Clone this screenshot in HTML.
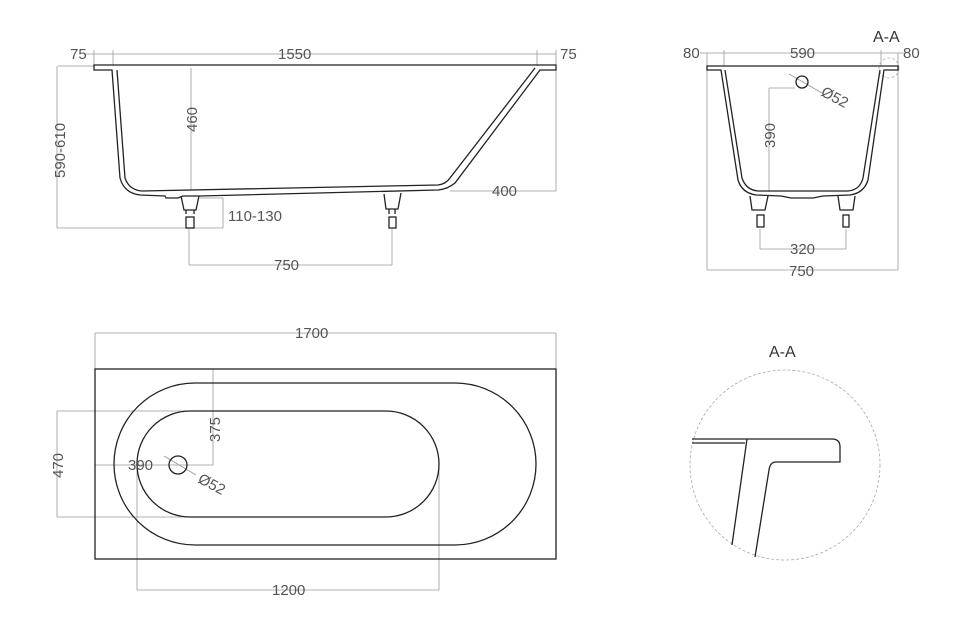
<!DOCTYPE html>
<html><head><meta charset="utf-8"><style>
html,body{margin:0;padding:0;background:#fff;}
svg{display:block;}
text{font-family:"Liberation Sans",sans-serif;font-size:15px;fill:#555;}
</style></head><body>
<svg width="958" height="629" viewBox="0 0 958 629" xmlns="http://www.w3.org/2000/svg">
<g fill="none" stroke="#999" stroke-width="0.8">
<!-- side view dims -->
<line x1="86" y1="54" x2="556" y2="54"/>
<line x1="94" y1="50" x2="94" y2="66"/><line x1="113" y1="50" x2="113" y2="66"/>
<line x1="537" y1="50" x2="537" y2="66"/><line x1="556" y1="50" x2="556" y2="191"/>
<line x1="58" y1="66" x2="94" y2="66"/><line x1="57" y1="66" x2="57" y2="228"/>
<line x1="57" y1="228" x2="223" y2="228"/><line x1="223" y1="198" x2="223" y2="228"/><line x1="200" y1="198" x2="223" y2="198"/>
<line x1="191" y1="68" x2="191" y2="190"/>
<line x1="450" y1="191" x2="556" y2="191"/>
<line x1="189" y1="229" x2="189" y2="265"/><line x1="392" y1="229" x2="392" y2="265"/><line x1="189" y1="265" x2="392" y2="265"/>
<!-- end view dims -->
<line x1="700" y1="53" x2="905" y2="53"/>
<line x1="707" y1="53" x2="707" y2="270"/><line x1="898" y1="53" x2="898" y2="270"/>
<line x1="724" y1="50" x2="724" y2="66"/><line x1="881" y1="50" x2="881" y2="66"/>
<line x1="707" y1="270" x2="898" y2="270"/>
<line x1="769" y1="88" x2="769" y2="192"/><line x1="769" y1="88" x2="795" y2="88"/>
<line x1="760" y1="229" x2="760" y2="249"/><line x1="846" y1="229" x2="846" y2="249"/><line x1="760" y1="249" x2="846" y2="249"/>
<line x1="789" y1="74" x2="822" y2="93"/>
<!-- plan dims -->
<line x1="95" y1="333" x2="556" y2="333"/><line x1="95" y1="333" x2="95" y2="369"/><line x1="556" y1="333" x2="556" y2="369"/>
<line x1="213" y1="369" x2="213" y2="465"/><line x1="95" y1="465" x2="213" y2="465"/>
<line x1="57" y1="411" x2="57" y2="517"/><line x1="57" y1="411" x2="190" y2="411"/><line x1="57" y1="517" x2="190" y2="517"/>
<line x1="137" y1="465" x2="137" y2="590"/><line x1="439" y1="465" x2="439" y2="590"/><line x1="137" y1="590" x2="439" y2="590"/>
<line x1="164" y1="456" x2="196" y2="475"/>
</g>
<g fill="none" stroke="#aaa" stroke-width="0.8" stroke-dasharray="3,2">
<circle cx="889" cy="68" r="10"/>
<circle cx="785" cy="465" r="95"/>
</g>
<g fill="none" stroke="#222" stroke-width="1.3">
<!-- side view body -->
<path d="M94,65 L556,65 L556,70 L540,70 L455,183 Q448,189 438,190 L200,196 L183,196 L178,198 L166,198 L165,196 L140,195 Q124,193 120,178 L112,70 L94,70 Z"/>
<path d="M117,70 L125,178 Q129,190 142,191 L438,185 Q446,184 450,178 L535,68"/>
<path d="M181,196 L184,210 L196,210 L199,196"/><line x1="186" y1="210" x2="186" y2="214"/><line x1="194" y1="210" x2="194" y2="214"/>
<rect x="186" y="217" width="8" height="11"/>
<path d="M384,194 L386,209 L398,209 L401,193"/><line x1="389" y1="209" x2="389" y2="214"/><line x1="395" y1="209" x2="395" y2="214"/>
<rect x="389" y="217" width="7" height="11"/>
<!-- end view body -->
<path d="M707,66 L898,66 L898,70 L884,70 L868,180 Q864,193 850,195 L823,196 L813,198 L791,198 L781,196 L756,195 Q742,193 738,180 L721,70 L707,70 Z"/>
<path d="M725,70 L742,178 Q746,190 758,191 L848,191 Q860,190 863,178 L880,70"/>
<path d="M750,196 L752,210 L765,210 L768,196"/><rect x="757" y="215" width="7" height="12"/>
<path d="M838,196 L840,210 L853,210 L855,196"/><rect x="843" y="215" width="6" height="12"/>
<circle cx="802" cy="82" r="6"/>
<!-- plan -->
<rect x="95" y="369" width="461" height="190"/>
<rect x="114" y="383" width="422" height="162" rx="81" ry="81"/>
<rect x="137" y="411" width="302" height="106" rx="53" ry="53"/>
<circle cx="178" cy="465" r="9"/>
<!-- detail -->
<path d="M692,439 L832,439 Q840,439 840,447 L840,462 L776,462 Q770,462 769,470 L755,557"/>
<line x1="692" y1="443" x2="745" y2="443"/>
<line x1="747" y1="439" x2="732" y2="545"/>
</g>
<g>
<text x="70" y="59">75</text>
<text x="278" y="59">1550</text>
<text x="560" y="59">75</text>
<text transform="translate(197,132) rotate(-90)">460</text>
<text transform="translate(65,178) rotate(-90)">590-610</text>
<text x="228" y="221">110-130</text>
<text x="492" y="196">400</text>
<text x="274" y="270">750</text>
<text x="683" y="58">80</text>
<text x="790" y="58">590</text>
<text x="903" y="58">80</text>
<text x="873" y="42" style="font-size:16px;fill:#333">A-A</text>
<text transform="translate(820,95) rotate(28)">Ø52</text>
<text transform="translate(775,148) rotate(-90)">390</text>
<text x="790" y="254">320</text>
<text x="789" y="276">750</text>
<text x="295" y="338">1700</text>
<text transform="translate(220,442) rotate(-90)">375</text>
<text x="128" y="470" style="fill:#555">390</text>
<text transform="translate(63,478) rotate(-90)">470</text>
<text transform="translate(197,482) rotate(28)">Ø52</text>
<text x="272" y="595">1200</text>
<text x="769" y="357" style="font-size:16px;fill:#333">A-A</text>
</g>
</svg>
</body></html>
